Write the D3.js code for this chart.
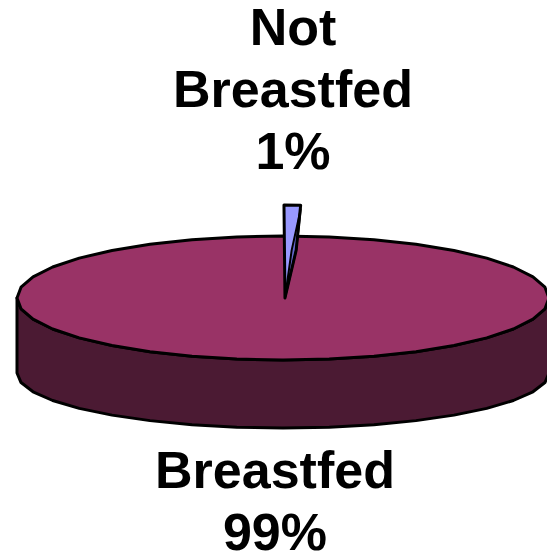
<!DOCTYPE html>
<html>
<head>
<meta charset="utf-8">
<script src="https://cdn.jsdelivr.net/npm/d3@7"></script>
<style>
  body { margin: 0; background: #fff; }
  text { font-family: "Liberation Sans", Arial, sans-serif; font-weight: bold; }
</style>
</head>
<body>
<div id="chart"></div>
<script>
// data
var categories = ["Not Breastfed", "Breastfed"];
var values = [1, 99];
var colors = ["#9999ff", "#993366"];
var sideColors = ["#6666cc", "#4b1a33"];

var width = 547, height = 552;
var cx = 283, cy = 298, rx = 266, ry = 62;   // top ellipse
var cyB = 373, ryB = 55;                     // bottom ellipse (perspective)
var explode = 31;
var step = Math.PI / 18;

var svg = d3.select("#chart").append("svg")
    .attr("width", width).attr("height", height);

function topPt(a) { return [cx + rx * Math.sin(a), cy - ry * Math.cos(a)]; }
function botPt(a) { return [cx + rx * Math.sin(a), cyB - ryB * Math.cos(a)]; }
function arcPts(f, a0, a1) {
  var n = Math.max(1, Math.ceil(Math.abs(a1 - a0) / step)), pts = [];
  for (var i = 0; i <= n; i++) pts.push(f(a0 + (a1 - a0) * i / n));
  return pts;
}
var line = d3.line();
var poly = function(p) { return line(p) + "Z"; };

var arcs = d3.pie().sort(null).startAngle(0).endAngle(2 * Math.PI)(values);
var total = d3.sum(values);
var fmt = d3.format(".0%");

var big = arcs[1], small = arcs[0];

// side of the main slice (front half only is visible)
var s0 = Math.max(big.startAngle, Math.PI / 2), s1 = Math.min(big.endAngle, 3 * Math.PI / 2);
svg.append("path")
    .attr("d", poly(arcPts(topPt, s0, s1).concat(arcPts(botPt, s1, s0))))
    .attr("fill", sideColors[1])
    .attr("stroke", "#000").attr("stroke-width", 3).attr("stroke-linejoin", "round");

// top of the pie
svg.append("path")
    .attr("d", poly(arcPts(topPt, 0, 2 * Math.PI)))
    .attr("fill", colors[1]);
svg.append("path")
    .attr("d", poly([[cx, cy]].concat(arcPts(topPt, big.startAngle, big.endAngle))))
    .attr("fill", colors[1]);
svg.append("path")
    .attr("d", line(arcPts(topPt, 0, 2 * Math.PI)))
    .attr("fill", "none")
    .attr("stroke", "#000").attr("stroke-width", 3).attr("stroke-linejoin", "round");

// exploded small slice
var mid = (small.startAngle + small.endAngle) / 2;
var ox = explode * Math.sin(mid), oy = -explode * Math.cos(mid);
var A0 = topPt(small.startAngle), A1 = topPt(small.endAngle);
A0 = [A0[0] + ox, A0[1] + oy];
A1 = [A1[0] + ox, A1[1] + oy];
var tip = [cx + ox + 1, cy];
var outer = [A1[0] - 4.5, A1[1] + 45];
var inner = [A1[0] - 9, A1[1] + 45];

svg.append("path")
    .attr("d", poly([A0, A1, [A1[0], A1[1] + 4], inner, tip]))
    .attr("fill", colors[0]);
svg.append("path")
    .attr("d", poly([[A1[0], A1[1] + 4], outer, tip, inner]))
    .attr("fill", sideColors[0])
    .attr("stroke", "#000").attr("stroke-width", 2).attr("stroke-linejoin", "round");
svg.append("path")
    .attr("d", poly([A0, A1, outer, tip]))
    .attr("fill", "none")
    .attr("stroke", "#000").attr("stroke-width", 3).attr("stroke-linejoin", "round");

// labels
var labelPos = [[293, 45], [275, 488]];
arcs.forEach(function(d, i) {
  var lines = categories[i].split(" ").concat([fmt(d.value / total)]);
  var t = svg.append("text")
      .attr("x", labelPos[i][0]).attr("y", labelPos[i][1])
      .attr("text-anchor", "middle")
      .attr("font-size", 52)
      .attr("fill", "#000");
  lines.forEach(function(l, j) {
    t.append("tspan").attr("x", labelPos[i][0]).attr("dy", j ? 62 : 0).text(l);
  });
});
</script>
</body>
</html>
